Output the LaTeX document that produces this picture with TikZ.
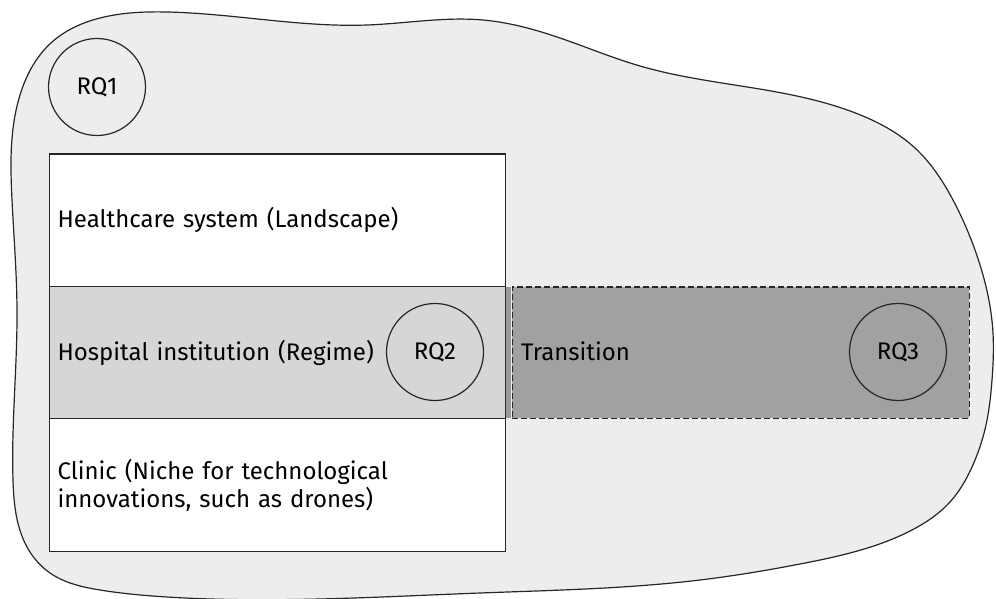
\documentclass[tikz,border=0pt]{standalone}
\usepackage{fontspec}
\setmainfont{Fira Sans}
\usetikzlibrary{hobby}
\begin{document}
\begin{tikzpicture}[x=1pt,y=-1pt,
  outline/.style={draw=black!85, line width=1.2pt},
  layer/.style={outline, rectangle, minimum width=456pt, minimum height=132.5pt,
    inner xsep=8pt, text width=440pt, align=left, anchor=north west,
    font=\fontsize{24}{28}\selectfont},
  rq/.style={outline, circle, minimum size=97pt, inner sep=0pt,
    font=\fontsize{24}{28}\selectfont},
  label/.style={font=\fontsize{24}{28}\selectfont, anchor=west, inner sep=0pt}]
\useasboundingbox (0,0) rectangle (996,599);

% socio-technical environment
\draw[outline, fill=black!7, use Hobby shortcut, closed=true]
  (167,12) .. (300,23) .. (367,25) .. (483,20) .. (560,38) .. (640,66)
  .. (782,93) .. (858,114) .. (915,148) .. (953,200) .. (975,250)
  .. (993,333) .. (992,380) .. (986,425) .. (972,467) .. (950,502)
  .. (912,530) .. (850,553) .. (800,564) .. (700,580) .. (480,593)
  .. (167,597) .. (100,590) .. (50,573) .. (27,547) .. (13,480)
  .. (17,310) .. (12,200) .. (20,95) .. (52,42) .. (100,18);

% multi-level layers
\node[layer, fill=white] (landscape) at (49,153.5) {Healthcare system (Landscape)};
\node[layer, fill=black!16] (regime) at (49,286) {Hospital institution (Regime)};
\node[layer, fill=white] (niche) at (49,418) {Clinic (Niche for technological\\innovations, such as drones)};

% transition band
\fill[black!40] (506.3,286.5) rectangle (511,417.5);
\node[draw=black!85, line width=1.4pt, dash pattern=on 6pt off 3pt, fill=black!37,
  rectangle, minimum width=457pt, minimum height=131.5pt, anchor=north west,
  inner sep=0pt] (transition) at (511.5,286.2) {};
\node[label] (transtext) at (521,351.5) {Transition};

% research questions
\node[rq] (rq1) at (97,87) {RQ1};
\node[rq, fill=black!16] (rq2) at (435,352) {RQ2};
\node[rq] (rq3) at (898,352) {RQ3};
\end{tikzpicture}
\end{document}
